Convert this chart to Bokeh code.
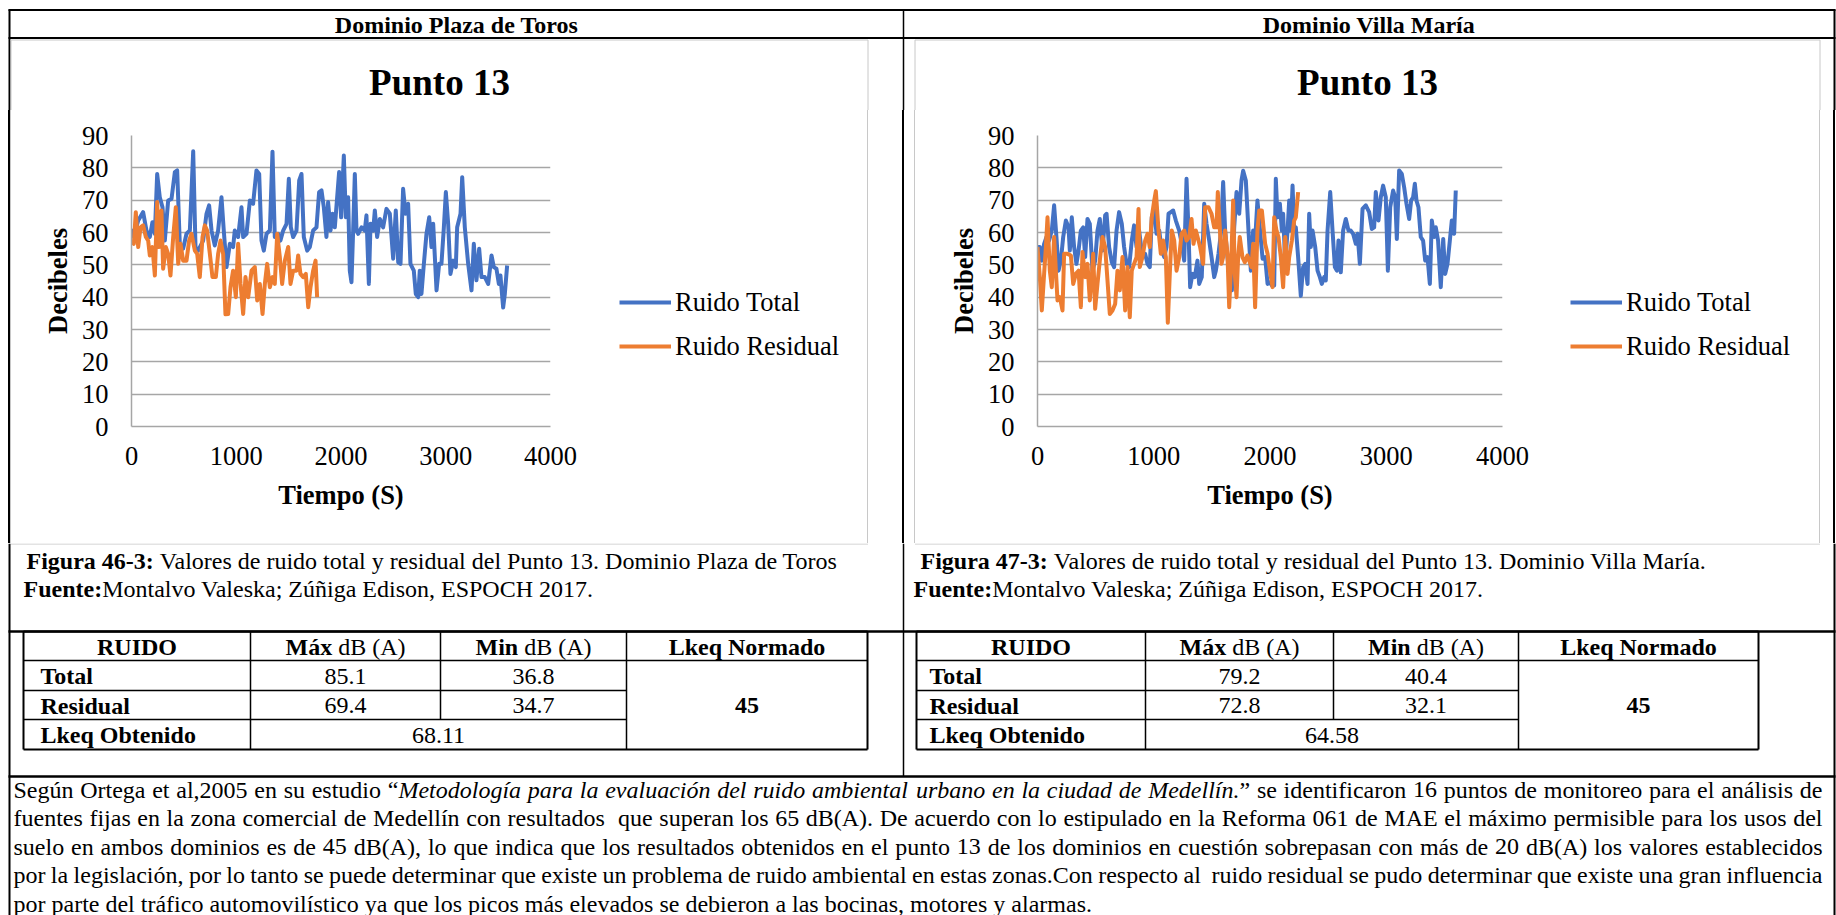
from bokeh.plotting import figure
from bokeh.models import Range1d, FixedTicker, Legend, LegendItem, ColumnDataSource, Div
from bokeh.layouts import column, row
from bokeh.core.properties import value
from bokeh.embed import file_html
from bokeh.resources import INLINE

# ---------------------------------------------------------------- data
X_TICKS = [0, 1000, 2000, 3000, 4000]
Y_TICKS = [0, 10, 20, 30, 40, 50, 60, 70, 80, 90]

# Dominio Plaza de Toros - time (s) and level (dB)
TOROS_TOTAL_T = [0, 22, 64, 111, 143, 175, 200, 223, 245, 270,
                 296, 318, 350, 382, 414, 436, 461, 493, 525, 557,
                 589, 611, 636, 684, 716, 741, 764, 795, 827, 859,
                 881, 907, 939, 970, 986, 1018, 1050, 1066, 1098, 1130,
                 1161, 1193, 1219, 1241, 1263, 1289, 1321, 1346, 1368, 1400,
                 1422, 1448, 1480, 1502, 1521, 1543, 1575, 1601, 1623, 1645,
                 1677, 1702, 1734, 1766, 1791, 1814, 1836, 1861, 1877, 1900,
                 1919, 1941, 1982, 2001, 2027, 2046, 2068, 2084, 2100, 2116,
                 2132, 2148, 2164, 2196, 2227, 2243, 2266, 2282, 2307, 2323,
                 2345, 2371, 2402, 2434, 2466, 2498, 2523, 2546, 2568, 2593,
                 2616, 2641, 2663, 2695, 2714, 2737, 2752, 2768, 2791, 2816,
                 2842, 2864, 2880, 2912, 2937, 2959, 2982, 3001, 3023, 3045,
                 3071, 3096, 3109, 3141, 3157, 3182, 3214, 3246, 3268, 3293,
                 3319, 3341, 3373, 3405, 3437, 3459, 3484, 3507, 3522, 3548,
                 3564, 3586]
TOROS_TOTAL_DB = [61.1, 58.6, 63.7, 66.3, 60.6, 58.6, 63.2, 59.6, 78.1, 70.9,
                  67.8, 57.5, 69.9, 70.4, 78.7, 79.2, 56.5, 55.0, 59.6, 60.6,
                  85.1, 55.5, 54.4, 57.5, 65.8, 68.4, 60.6, 56.0, 60.6, 70.9,
                  60.6, 49.3, 56.5, 55.5, 60.6, 58.6, 67.8, 58.6, 59.6, 69.9,
                  68.9, 79.2, 78.1, 57.5, 54.4, 59.6, 60.6, 85.0, 58.6, 59.6,
                  57.5, 60.6, 62.7, 76.6, 61.6, 58.6, 60.6, 76.1, 78.1, 58.6,
                  54.4, 55.5, 60.6, 61.6, 72.5, 73.0, 67.8, 58.6, 69.4, 60.6,
                  65.8, 61.6, 78.7, 64.7, 83.8, 64.7, 70.9, 48.2, 44.6, 60.6,
                  78.1, 60.6, 59.6, 61.6, 60.6, 65.3, 44.1, 62.7, 60.6, 66.8,
                  58.6, 64.2, 61.6, 67.3, 65.8, 51.9, 66.8, 50.8, 50.3, 73.5,
                  65.8, 68.9, 50.3, 48.2, 41.0, 40.0, 48.2, 41.0, 50.3, 59.6,
                  64.7, 55.5, 62.7, 42.1, 50.3, 50.3, 61.6, 72.5, 62.7, 47.2,
                  51.3, 49.3, 61.6, 65.8, 77.1, 61.6, 50.3, 42.1, 56.5, 45.2,
                  55.0, 46.2, 46.2, 44.1, 52.9, 49.3, 48.8, 44.1, 46.7, 36.8,
                  41.0, 49.8]
TOROS_RESID_T = [0, 22, 41, 64, 86, 111, 137, 159, 175, 200,
                 223, 245, 264, 286, 302, 328, 350, 372, 398, 423,
                 446, 468, 493, 525, 550, 573, 605, 627, 652, 678,
                 700, 722, 748, 773, 805, 827, 850, 875, 897, 923,
                 945, 970, 996, 1018, 1041, 1066, 1088, 1114, 1146, 1177,
                 1200, 1225, 1251, 1273, 1295, 1321, 1346, 1368, 1391, 1416,
                 1438, 1464, 1496, 1518, 1543, 1575, 1591, 1613, 1639, 1664,
                 1687, 1709, 1734, 1757, 1772]
TOROS_RESID_DB = [57.5, 56.5, 66.3, 55.5, 61.6, 62.2, 58.6, 57.5, 52.9, 55.5,
                  46.7, 69.4, 55.5, 66.8, 48.8, 55.5, 53.4, 46.7, 58.6, 67.8,
                  50.3, 56.5, 51.3, 51.3, 57.5, 59.6, 54.4, 53.4, 46.2, 58.6,
                  62.2, 60.6, 53.4, 46.2, 46.2, 53.4, 57.5, 53.4, 34.7, 34.8,
                  43.1, 48.2, 40.0, 56.5, 44.1, 34.8, 46.2, 40.0, 48.2, 49.3,
                  39.0, 44.1, 34.8, 44.1, 50.3, 43.1, 46.2, 44.1, 59.6, 52.4,
                  44.1, 51.3, 55.5, 44.1, 48.2, 48.2, 52.9, 47.2, 46.2, 47.2,
                  36.9, 43.1, 48.2, 51.3, 40.0]

# Dominio Villa María - time (s) and level (dB)
VILLA_TOTAL_T = [0, 20, 37, 57, 77, 100, 123, 143, 163, 181,
                 201, 221, 244, 267, 278, 295, 315, 335, 353, 373,
                 393, 410, 430, 450, 473, 496, 516, 536, 559, 582,
                 594, 616, 639, 659, 680, 702, 725, 745, 766, 788,
                 811, 831, 852, 874, 903, 926, 946, 966, 983, 1004,
                 1024, 1047, 1069, 1090, 1110, 1127, 1147, 1167, 1190, 1219,
                 1241, 1262, 1282, 1299, 1313, 1333, 1353, 1376, 1391, 1413,
                 1434, 1454, 1477, 1497, 1520, 1534, 1557, 1577, 1597, 1614,
                 1634, 1654, 1672, 1692, 1712, 1735, 1755, 1769, 1792, 1815,
                 1835, 1855, 1872, 1892, 1912, 1930,
                 1936, 1958, 1979, 1999, 2016, 2036, 2050, 2065, 2085, 2102,
                 2113, 2131, 2151, 2165, 2179, 2194, 2208, 2222, 2242, 2265,
                 2285, 2303, 2323, 2337, 2351, 2366, 2389, 2409, 2429, 2446,
                 2466, 2480, 2495, 2518, 2538, 2558, 2575, 2589, 2609, 2629,
                 2652, 2675, 2695, 2715, 2738, 2753, 2773, 2796, 2824, 2853,
                 2876, 2896, 2910, 2933, 2953, 2973, 2996, 3014, 3034, 3059,
                 3077, 3091, 3111, 3134, 3154, 3174, 3197, 3214, 3231, 3246,
                 3260, 3277, 3297, 3317, 3335, 3355, 3375, 3392, 3412, 3426,
                 3446, 3469, 3490, 3507, 3527, 3547, 3564, 3584, 3598]
VILLA_TOTAL_DB = [55.5, 55.5, 51.3, 56.5, 58.6, 57.5, 60.6, 68.4, 58.6, 48.2,
                  51.3, 58.6, 63.7, 61.6, 54.4, 64.7, 55.5, 50.3, 54.4, 60.6,
                  61.6, 52.4, 64.2, 62.7, 48.2, 51.3, 60.6, 64.2, 54.4, 65.3,
                  65.8, 55.5, 50.8, 49.3, 60.6, 66.3, 62.7, 55.5, 50.3, 49.3,
                  57.5, 62.2, 55.5, 60.6, 52.4, 53.4, 50.3, 49.3, 64.7, 67.3,
                  59.6, 60.6, 54.4, 52.4, 55.5, 65.8, 66.3, 66.8, 63.7, 60.6,
                  56.5, 51.3, 76.6, 60.6, 43.1, 47.2, 46.2, 51.3, 44.1, 46.2,
                  68.9, 62.7, 57.5, 52.4, 46.2, 48.2, 53.4, 59.6, 75.6, 60.6,
                  52.4, 46.2, 42.1, 61.6, 72.5, 65.8, 76.1, 79.1, 76.1, 60.6,
                  48.2, 60.6, 57.5, 69.9, 61.6, 54.4,
                  51.9, 52.4, 44.1, 44.6, 43.6, 43.6, 76.6, 64.7, 68.9, 60.6,
                  65.8, 50.3, 60.6, 69.9, 60.6, 74.5, 60.6, 61.6, 52.4, 40.4,
                  49.3, 50.3, 44.1, 65.8, 55.5, 60.6, 55.5, 48.2, 46.2, 44.1,
                  46.2, 45.2, 60.6, 72.5, 60.6, 49.3, 48.2, 57.5, 47.7, 60.6,
                  64.2, 60.6, 60.6, 59.6, 56.5, 59.6, 50.3, 67.3, 68.4, 66.3,
                  61.1, 61.6, 72.5, 63.7, 70.9, 74.5, 70.9, 48.2, 67.8, 73.0,
                  70.9, 58.0, 79.2, 78.1, 74.0, 68.9, 64.2, 69.9, 70.9, 75.1,
                  69.9, 67.8, 58.6, 57.5, 51.3, 52.4, 44.1, 63.7, 58.6, 61.6,
                  57.5, 43.1, 58.0, 47.2, 50.3, 57.5, 63.7, 59.6, 73.0]
VILLA_RESID_T = [0, 20, 37, 57, 72, 86, 106, 123, 143, 158,
                 172, 192, 215, 229, 258, 287, 307, 330, 353, 373,
                 387, 410, 430, 450, 467, 479, 496, 516, 539, 559,
                 582, 602, 622, 645, 668, 688, 708, 731, 754, 774,
                 794, 811, 831, 852, 869, 880, 903, 926, 946, 966,
                 983, 1004, 1018, 1041, 1061, 1081, 1104, 1121, 1138, 1155,
                 1176, 1196, 1219, 1239, 1262, 1282, 1305, 1325, 1342, 1362,
                 1385, 1399, 1425, 1442, 1471, 1497, 1520, 1540, 1551, 1568,
                 1583, 1597, 1614, 1634, 1649, 1666, 1683, 1697, 1712, 1726,
                 1740, 1763, 1783, 1806, 1821, 1841, 1855, 1872, 1892, 1907,
                 1930, 1958, 1979, 1999, 2022, 2036, 2056, 2073, 2093, 2113,
                 2131, 2151, 2165, 2188, 2208, 2222, 2242]
VILLA_RESID_DB = [55.5, 46.2, 35.9, 47.2, 55.5, 64.7, 48.2, 43.1, 58.6, 48.2,
                  39.0, 40.0, 35.9, 53.4, 53.4, 52.9, 44.1, 47.2, 48.2, 36.9,
                  54.0, 46.2, 50.3, 39.0, 46.2, 53.4, 36.4, 44.1, 52.4, 58.6,
                  55.5, 45.2, 34.8, 35.9, 37.9, 48.2, 42.1, 52.4, 35.9, 49.3,
                  33.8, 48.2, 50.3, 52.4, 67.3, 49.3, 52.4, 57.5, 59.6, 55.5,
                  64.7, 69.9, 72.8, 60.6, 53.4, 57.5, 52.4, 32.1, 47.2, 60.6,
                  57.5, 48.2, 52.4, 59.6, 60.6, 57.5, 58.6, 64.2, 56.5, 60.6,
                  57.5, 55.5, 50.3, 67.8, 67.8, 65.8, 61.6, 61.6, 72.5, 61.6,
                  50.3, 52.4, 60.6, 53.4, 36.9, 50.3, 69.9, 47.2, 40.0, 52.4,
                  58.6, 52.4, 50.8, 52.9, 51.3, 49.3, 56.5, 36.9, 60.6, 66.8,
                  66.8, 56.5, 53.4, 48.2, 43.1, 64.7, 60.6, 58.6, 52.4, 43.1,
                  58.6, 47.2, 52.4, 57.5, 63.7, 64.7, 72.5]

SERIES_NAMES = ["Ruido Total", "Ruido Residual"]
CHART_TITLE = "Punto 13"

# summary tables
TABLE_HEAD = ["RUIDO", "Máx", "Min", "Lkeq Normado"]
TABLE_ROWS = ["Total", "Residual", "Lkeq Obtenido"]
TOROS_MAX = [85.1, 69.4]
TOROS_MIN = [36.8, 34.7]
TOROS_LKEQ = 68.11
VILLA_MAX = [79.2, 72.8]
VILLA_MIN = [40.4, 32.1]
VILLA_LKEQ = 64.58
LKEQ_NORMADO = 45

PARAGRAPH = [
    "Según Ortega et al,2005 en su estudio “_Metodología para la evaluación del ruido ambiental urbano en la ciudad de Medellín._” se identificaron 16 puntos de monitoreo para el análisis de",
    "fuentes fijas en la zona comercial de Medellín con resultados  que superan los 65 dB(A). De acuerdo con lo estipulado en la Reforma 061 de MAE el máximo permisible para los usos del",
    "suelo en ambos dominios es de 45 dB(A), lo que indica que los resultados obtenidos en el punto 13 de los dominios en cuestión sobrepasan con más de 20 dB(A) los valores establecidos",
    "por la legislación, por lo tanto se puede determinar que existe un problema de ruido ambiental en estas zonas.Con respecto al  ruido residual se pudo determinar que existe una gran influencia",
    "por parte del tráfico automovilístico ya que los picos más elevados se debieron a las bocinas, motores y alarmas.",
]

# ---------------------------------------------------------------- style
SERIF = "Liberation Serif"
BLUE = "#4472C4"
ORANGE = "#ED7D31"
GRID = "#a6a6a6"
BOX = "#c8c8c8"
TXT = 24          # body text size (px)
CHART_TXT = "26.5px"
LINE_W = 4


def _widths(groups):
    d = {}
    for w, chars in groups.items():
        for ch in chars:
            d[ch] = w
    return d


# Times-compatible advance widths (1/1000 em)
W_REG = _widths({250: " ,.", 278: "ijlt:;/í", 333: "fr()-I!", 389: "sJ",
                 444: "acez?áé“”", 500: "bdghknopquvxy0123456789ñóú",
                 556: "FPS", 564: "+=<>", 611: "ELTZ", 667: "BCR",
                 722: "ADGHKNOQUVXYwÚ", 778: "m&", 833: "%", 889: "M", 944: "W"})
W_BOLD = _widths({250: " ,.", 278: "ilí", 333: "ftj():;-", 389: "sI", 444: "cerz",
                  500: "abgovxyJá0123456789", 556: "dhknpquS", 611: "FP",
                  667: "ELTZB", 722: "ACDNRUVXYwÚ", 778: "GHKOQ", 833: "m",
                  944: "M", 1000: "W"})
W_IT = _widths({250: " ,.", 278: "fijltí:;", 333: "()-", 389: "rsz",
                444: "cekvxy“”", 500: "abdghnopquáóú0123456789", 667: "w", 833: "M"})
TABLES = {"normal": W_REG, "bold": W_BOLD, "italic": W_IT}


def text_w(s, size, style="normal"):
    tbl = TABLES[style]
    return sum(tbl.get(ch, W_REG.get(ch, 500)) for ch in s) * size / 1000.0


class TextBatch:
    def __init__(self):
        self.d = dict(x=[], y=[], text=[], size=[], style=[], align=[])

    def add(self, x, y, s, size=TXT, style="normal", align="left"):
        self.d["x"].append(x)
        self.d["y"].append(y)
        self.d["text"].append(s)
        self.d["size"].append(f"{size}px")
        self.d["style"].append(style)
        self.d["align"].append(align)

    def mixed(self, x, y, parts, size=TXT, align="left"):
        total = sum(text_w(t, size, s) for t, s in parts)
        if align == "center":
            x -= total / 2
        for t, s in parts:
            lead = len(t) - len(t.lstrip(" "))
            if t.strip():
                self.add(x + text_w(" " * lead, size, s), y, t.strip(), size, s)
            x += text_w(t, size, s)

    def draw(self, p):
        p.text(x="x", y="y", text="text", source=ColumnDataSource(self.d),
               text_font=value(SERIF), text_font_size="size", text_font_style="style",
               text_align="align", text_baseline="middle", text_color="black")


class Lines:
    def __init__(self):
        self.d = dict(x0=[], y0=[], x1=[], y1=[], c=[], w=[])

    def seg(self, x0, y0, x1, y1, c="black", w=2.0):
        for k, v in zip(("x0", "y0", "x1", "y1", "c", "w"), (x0, y0, x1, y1, c, w)):
            self.d[k].append(v)

    def draw(self, p):
        p.segment(x0="x0", y0="y0", x1="x1", y1="y1", line_color="c", line_width="w",
                  source=ColumnDataSource(self.d))


def sheet(w, h, x0, x1, y0, y1):
    """Blank drawing area in page pixel coordinates (y grows downward)."""
    p = figure(width=w, height=h, x_range=Range1d(x0, x1), y_range=Range1d(y1, y0),
               output_backend="svg", toolbar_location=None,
               x_axis_type=None, y_axis_type=None, min_border=0)
    p.outline_line_color = None
    p.grid.visible = False
    p.background_fill_color = "white"
    p.border_fill_color = "white"
    return p


def rule_strip(w, h, rules):
    """Narrow band holding only vertical rules: (left px, width px, colour)."""
    inner = "".join(
        f'<div style="position:absolute;left:{x}px;top:0;width:{lw}px;height:{h}px;background:{c};"></div>'
        for x, lw, c in rules)
    html = f'<div style="position:relative;width:{w}px;height:{h}px;overflow:hidden;background:white;">{inner}</div>'
    return Div(text=html, width=w, height=h, margin=0)


TOP_H = 110                      # header row + chart titles
CHART_H = 433                    # plotting band
BORDER_TOP = 25
BORDER_BOTTOM = 117


def chart(width, left, t_tot, v_tot, t_res, v_res):
    p = figure(width=width, height=CHART_H, x_range=Range1d(0, 4000), y_range=Range1d(0, 90),
               output_backend="svg", toolbar_location=None,
               min_border_left=left, min_border_right=50,
               min_border_top=BORDER_TOP, min_border_bottom=BORDER_BOTTOM)
    p.outline_line_color = None
    p.background_fill_color = "white"
    p.border_fill_color = "white"

    p.line(t_tot, v_tot, line_color=BLUE, line_width=LINE_W, line_join="round")
    p.line(t_res, v_res, line_color=ORANGE, line_width=LINE_W, line_join="round")

    p.xaxis.ticker = FixedTicker(ticks=X_TICKS)
    p.yaxis.ticker = FixedTicker(ticks=Y_TICKS)
    for ax in (p.xaxis[0], p.yaxis[0]):
        ax.major_tick_line_color = None
        ax.minor_tick_line_color = None
        ax.major_tick_out = 0
        ax.major_tick_in = 0
        ax.minor_tick_out = 0
        ax.axis_line_color = GRID
        ax.axis_line_width = 1.5
        ax.major_label_text_font = SERIF
        ax.major_label_text_font_size = CHART_TXT
        ax.major_label_text_color = "black"
        ax.axis_label_text_font = SERIF
        ax.axis_label_text_font_size = CHART_TXT
        ax.axis_label_text_font_style = "bold"
        ax.axis_label_text_color = "black"
    p.xaxis.axis_label = "Tiempo (S)"
    p.yaxis.axis_label = "Decibeles"
    p.xaxis.major_label_standoff = 20
    p.yaxis.major_label_standoff = 23
    p.xaxis.axis_label_standoff = 12
    p.yaxis.axis_label_standoff = 6

    p.xgrid.visible = False
    p.ygrid.ticker = FixedTicker(ticks=Y_TICKS)
    p.ygrid.grid_line_color = GRID
    p.ygrid.grid_line_width = 1.5
    return p


def legend_panel(width, dx, series):
    """Key for the two series, drawn beside the plotting area (series kept off-view)."""
    p = figure(width=width, height=CHART_H, x_range=Range1d(-2, -1), y_range=Range1d(-2, -1),
               output_backend="svg", toolbar_location=None, x_axis_type=None, y_axis_type=None,
               min_border_left=0, min_border_right=0,
               min_border_top=BORDER_TOP, min_border_bottom=BORDER_BOTTOM)
    p.outline_line_color = None
    p.grid.visible = False
    p.background_fill_color = "white"
    p.border_fill_color = "white"
    keys = [p.line(t, v, line_color=c, line_width=LINE_W)
            for (t, v), c in zip(series, (BLUE, ORANGE))]
    leg = Legend(items=[LegendItem(label=n, renderers=[r]) for n, r in zip(SERIES_NAMES, keys)],
                 location=(dx, 60), glyph_width=52, glyph_height=40,
                 label_height=40, spacing=4, padding=0, margin=0, label_standoff=4,
                 border_line_color=None, background_fill_alpha=0,
                 label_text_font=SERIF, label_text_font_size=CHART_TXT,
                 label_text_color="black")
    p.add_layout(leg)
    return p


# ---------------------------------------------------------------- header band
top = sheet(1836, TOP_H, 0, 1836, 0, TOP_H)
ln = Lines()
ln.seg(8, 9.5, 1835, 9.5, w=2)
ln.seg(8, 37.5, 1835, 37.5, w=2)
for x in (9, 1834):
    ln.seg(x, 9, x, TOP_H, w=2)
ln.seg(903, 9, 903, TOP_H, w=1.5)
ln.seg(10, 39.5, 867.5, 39.5, BOX, 1)
ln.seg(914.5, 39.5, 1819.5, 39.5, BOX, 1)
for x in (10.5, 867.5, 914.5, 1819.5):
    ln.seg(x, 39.5, x, TOP_H, BOX, 1)
ln.draw(top)
tb = TextBatch()
tb.add(456, 24, "Dominio Plaza de Toros", style="bold", align="center")
tb.add(1368.5, 24, "Dominio Villa María", style="bold", align="center")
tb.add(439, 82, CHART_TITLE, size=37, style="bold", align="center")
tb.add(1367, 82, CHART_TITLE, size=37, style="bold", align="center")
tb.draw(top)

# ---------------------------------------------------------------- chart band
s0 = rule_strip(11, CHART_H, [(8, 2, "black"), (10, 1, BOX)])
s1 = rule_strip(48, CHART_H, [(0, 1, BOX), (35.25, 1.5, "black"), (47, 1, BOX)])
s2 = rule_strip(17, CHART_H, [(0, 1, BOX), (14, 2, "black")])

left_chart = chart(589, 120, TOROS_TOTAL_T, TOROS_TOTAL_DB, TOROS_RESID_T, TOROS_RESID_DB)
left_key = legend_panel(267, 19, [(TOROS_TOTAL_T, TOROS_TOTAL_DB), (TOROS_RESID_T, TOROS_RESID_DB)])
right_chart = chart(637, 122, VILLA_TOTAL_T, VILLA_TOTAL_DB, VILLA_RESID_T, VILLA_RESID_DB)
right_key = legend_panel(267, 18, [(VILLA_TOTAL_T, VILLA_TOTAL_DB), (VILLA_RESID_T, VILLA_RESID_DB)])

# ---------------------------------------------------------------- lower band
bottom = sheet(1836, 372, 0, 1836, 543, 915)
ln = Lines()
ln.seg(10, 543.5, 867.5, 543.5, BOX, 1)
ln.seg(914.5, 543.5, 1819.5, 543.5, BOX, 1)
ln.seg(9, 543, 9, 915, w=2)
ln.seg(1834, 543, 1834, 915, w=2)
ln.seg(903, 543, 903, 776, w=1.5)
ln.seg(8, 631, 1835, 631, w=2.5)
ln.seg(8, 776, 1835, 776, w=2.5)

ROW_Y = [631, 660, 690, 719, 749]
tb = TextBatch()


def summary_table(cols, label_x, maxs, mins, lkeq):
    a, b, c, d, e = cols
    ln.seg(a, ROW_Y[0], e, ROW_Y[0], w=2)
    ln.seg(a, ROW_Y[1], e, ROW_Y[1], w=1.5)
    ln.seg(a, ROW_Y[2], d, ROW_Y[2], w=1.5)
    ln.seg(a, ROW_Y[3], d, ROW_Y[3], w=1.5)
    ln.seg(a, ROW_Y[4], e, ROW_Y[4], w=2)
    ln.seg(a, ROW_Y[0], a, ROW_Y[4], w=2)
    ln.seg(e, ROW_Y[0], e, ROW_Y[4], w=2)
    ln.seg(b, ROW_Y[0], b, ROW_Y[4], w=1.5)
    ln.seg(c, ROW_Y[0], c, ROW_Y[3], w=1.5)
    ln.seg(d, ROW_Y[0], d, ROW_Y[4], w=1.5)
    yc = [(ROW_Y[i] + ROW_Y[i + 1]) / 2 + 0.5 for i in range(4)]
    tb.add((a + b) / 2, yc[0], TABLE_HEAD[0], style="bold", align="center")
    tb.mixed((b + c) / 2, yc[0], [(TABLE_HEAD[1], "bold"), (" dB (A)", "normal")], align="center")
    tb.mixed((c + d) / 2, yc[0], [(TABLE_HEAD[2], "bold"), (" dB (A)", "normal")], align="center")
    tb.add((d + e) / 2, yc[0], TABLE_HEAD[3], style="bold", align="center")
    for i, name in enumerate(TABLE_ROWS):
        tb.add(label_x, yc[i + 1], name, style="bold")
    for i in range(2):
        tb.add((b + c) / 2, yc[i + 1], f"{maxs[i]:.1f}", align="center")
        tb.add((c + d) / 2, yc[i + 1], f"{mins[i]:.1f}", align="center")
    tb.add((b + d) / 2, yc[3], f"{lkeq:.2f}", align="center")
    tb.add((d + e) / 2, (ROW_Y[1] + ROW_Y[4]) / 2, f"{LKEQ_NORMADO}", style="bold", align="center")


summary_table([23, 250, 440, 626, 867], 40, TOROS_MAX, TOROS_MIN, TOROS_LKEQ)
summary_table([916, 1145, 1333, 1518, 1758], 929, VILLA_MAX, VILLA_MIN, VILLA_LKEQ)
ln.draw(bottom)

# figure captions
tb.mixed(26, 560, [("Figura 46-3:", "bold"),
                   (" Valores de ruido total y residual del Punto 13. Dominio Plaza de Toros", "normal")])
tb.mixed(23, 588, [("Fuente:", "bold"), ("Montalvo Valeska; Zúñiga Edison, ESPOCH 2017.", "normal")])
tb.mixed(920, 560, [("Figura 47-3:", "bold"),
                    (" Valores de ruido total y residual del Punto 13. Dominio Villa María.", "normal")])
tb.mixed(913, 588, [("Fuente:", "bold"), ("Montalvo Valeska; Zúñiga Edison, ESPOCH 2017.", "normal")])


# justified discussion paragraph; "_" toggles italics
def paragraph(lines, x0, x1, y0, dy):
    italic = False
    for li, line in enumerate(lines):
        words = []
        for token in line.split(" "):
            runs = []
            pieces = token.split("_")
            for k, piece in enumerate(pieces):
                if k > 0:
                    italic = not italic
                if piece:
                    runs.append((piece, "italic" if italic else "normal"))
            words.append(runs)
        widths = [sum(text_w(t, TXT, s) for t, s in w) for w in words]
        last = li == len(lines) - 1
        gap = text_w(" ", TXT) if last else (x1 - x0 - sum(widths)) / (len(words) - 1)
        x = x0
        y = y0 + li * dy
        for runs, w in zip(words, widths):
            xx = x
            for t, s in runs:
                tb.add(xx, y, t, style=s)
                xx += text_w(t, TXT, s)
            x += w + gap


paragraph(PARAGRAPH, 13, 1822, 789, 28.5)
tb.draw(bottom)

page = column(top, row(s0, left_chart, left_key, s1, right_chart, right_key, s2), bottom)
open("out.html", "w").write(file_html(page, INLINE))
